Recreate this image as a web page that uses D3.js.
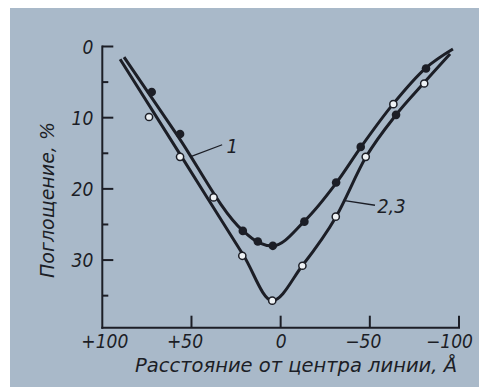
<!DOCTYPE html>
<html lang="ru">
<head>
<meta charset="utf-8">
<style>
  body { margin: 0; background: #fff; }
  svg text { font-family: "DejaVu Sans Condensed", "DejaVu Sans", sans-serif; font-style: italic; fill: #1c1e26; }
</style>
</head>
<body>
<svg width="479" height="387"></svg>
<script src="https://d3js.org/d3.v7.min.js"></script>
<script>
// x: distance from line centre (A), y: absorption (%)
var xTicks = [100, 50, 0, -50, -100];
var yTicksMajor = [0, 10, 20, 30];
var yTicksMinor = [5, 15, 25, 35];

// curve 1 (filled points)
var curve1 = [[87.8, 1.5], [58.4, 12.3], [21.1, 25.9], [12.7, 27.5], [4.3, 28.0], [-13.1, 24.6],
              [-31.1, 19.2], [-45.1, 14.1], [-63.0, 8.1], [-81.5, 3.0], [-96.6, 0.35]];
var points1 = [[72.3, 6.4], [56.4, 12.3], [21.2, 25.9], [12.8, 27.4], [4.4, 28.0], [-13.3, 24.6],
               [-31.1, 19.1], [-44.9, 14.1], [-64.7, 9.6], [-81.5, 3.1]];

// curves 2,3 (open points)
var curve23 = [[90.0, 1.8], [55.5, 15.5], [20.7, 29.4], [4.7, 35.7], [-12.1, 30.8], [-31.1, 23.9],
               [-47.9, 15.5], [-64.7, 9.6], [-80.4, 5.1], [-95.0, 1.05]];
var points23 = [[73.8, 9.9], [56.4, 15.5], [37.6, 21.2], [21.5, 29.4], [4.7, 35.7], [-12.2, 30.8],
                [-30.9, 23.9], [-47.7, 15.5], [-63.2, 8.1], [-80.5, 5.2]];

// curve labels: text, text position, leader line from -> to
var labels = [
  {text: "1",   at: [27.2, 15.0],  from: [32.8, 13.8],  to: [50.8, 15.5], anchor: "middle"},
  {text: "2,3", at: [-54.1, 23.4], from: [-52.9, 22.3], to: [-35.0, 21.6], anchor: "start"}
];

var svg = d3.select("svg");
var ink = "#1c1e26";

svg.append("rect").attr("x", 10).attr("y", 8).attr("width", 469).attr("height", 379).attr("fill", "#a9b9c9");

var x = d3.scaleLinear().domain([100, -100]).range([102.3, 459]);
var y = d3.scaleLinear().domain([0, 39.5]).range([46.5, 327.7]);

// y axis: labels from d3.axisLeft, ticks drawn inward
var yAxis = svg.append("g").attr("transform", "translate(" + x(100) + ",0)")
  .call(d3.axisLeft(y).tickValues(yTicksMajor).tickSize(0).tickPadding(9));
yAxis.select(".domain").remove();
yAxis.selectAll("text").style("font-size", "19px").attr("dy", "0.36em");

var g = svg.append("g").attr("stroke", ink).attr("stroke-width", 2);

g.append("line").attr("x1", x(100)).attr("x2", x(100)).attr("y1", y(0) - 1).attr("y2", y(39.5) + 1);
g.append("line").attr("x1", x(100) - 1).attr("x2", x(-100) + 1).attr("y1", y(39.5)).attr("y2", y(39.5));

g.selectAll(".ymaj").data(yTicksMajor).enter().append("line").attr("class", "ymaj")
  .attr("x1", x(100)).attr("x2", x(100) + 11)
  .attr("y1", function (d) { return y(d); }).attr("y2", function (d) { return y(d); });

g.selectAll(".ymin").data(yTicksMinor).enter().append("line").attr("class", "ymin")
  .attr("x1", x(100)).attr("x2", x(100) + 6)
  .attr("y1", function (d) { return y(d); }).attr("y2", function (d) { return y(d); });

g.selectAll(".xt").data(xTicks.slice(1)).enter().append("line").attr("class", "xt")
  .attr("x1", function (d) { return x(d); }).attr("x2", function (d) { return x(d); })
  .attr("y1", y(39.5)).attr("y2", y(39.5) - 12);

// x axis labels
var labelShift = {"100": 2, "50": -7, "0": 0, "-50": -7, "-100": -10};
var xAxis = svg.append("g").attr("transform", "translate(0," + y(39.5) + ")")
  .call(d3.axisBottom(x).tickValues(xTicks).tickSize(0).tickPadding(7)
    .tickFormat(function (d) { return d > 0 ? "+" + d : (d < 0 ? "\u2212" + (-d) : "0"); }));
xAxis.select(".domain").remove();
xAxis.selectAll("text").style("font-size", "19px")
  .attr("dx", function (d) { return labelShift[String(d)]; });

// axis titles
svg.append("text").attr("x", 135).attr("y", 371.5)
  .attr("textLength", 322).attr("lengthAdjust", "spacingAndGlyphs")
  .style("font-size", "20px").text("Расстояние от центра линии, Å");

svg.append("text").attr("transform", "translate(54,278) rotate(-90)")
  .attr("textLength", 156).attr("lengthAdjust", "spacingAndGlyphs")
  .style("font-size", "20px").text("Поглощение, %");

// curves
var line = d3.line()
  .x(function (d) { return x(d[0]); })
  .y(function (d) { return y(d[1]); })
  .curve(d3.curveMonotoneX);

[curve1, curve23].forEach(function (c) {
  svg.append("path").datum(c).attr("d", line)
    .attr("fill", "none").attr("stroke", ink).attr("stroke-width", 3);
});

// points
svg.selectAll(".filled").data(points1).enter().append("circle")
  .attr("class", "filled")
  .attr("cx", function (d) { return x(d[0]); }).attr("cy", function (d) { return y(d[1]); })
  .attr("r", 4.3).attr("fill", ink);

svg.selectAll(".open").data(points23).enter().append("circle")
  .attr("class", "open")
  .attr("cx", function (d) { return x(d[0]); }).attr("cy", function (d) { return y(d[1]); })
  .attr("r", 3.6).attr("fill", "#eef2f5").attr("stroke", ink).attr("stroke-width", 1.5);

// curve labels with leader lines
labels.forEach(function (l) {
  svg.append("line")
    .attr("x1", x(l.from[0])).attr("y1", y(l.from[1]))
    .attr("x2", x(l.to[0])).attr("y2", y(l.to[1]))
    .attr("stroke", ink).attr("stroke-width", 1.3);
  svg.append("text").attr("x", x(l.at[0])).attr("y", y(l.at[1]))
    .attr("text-anchor", l.anchor).style("font-size", "20px").text(l.text);
});
</script>
</body>
</html>
